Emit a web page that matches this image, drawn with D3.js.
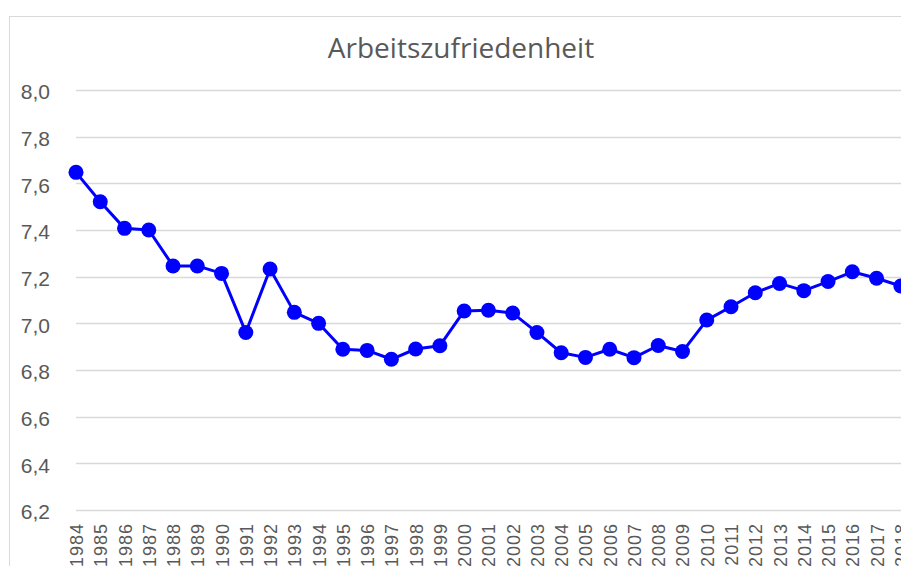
<!DOCTYPE html>
<html lang="de">
<head>
    <meta charset="UTF-8">
    <title>Arbeitszufriedenheit</title>
    <script src="https://d3js.org/d3.v7.min.js"></script>
    <style>
        body { margin: 0; background: #fff; }
        svg { display: block; font-family: "Open Sans", Lato, sans-serif; }
    </style>
</head>
<body>
    <svg width="901" height="566"></svg>
    <script>
        // Data
        const years = [1984, 1985, 1986, 1987, 1988, 1989, 1990, 1991, 1992, 1993,
                       1994, 1995, 1996, 1997, 1998, 1999, 2000, 2001, 2002, 2003,
                       2004, 2005, 2006, 2007, 2008, 2009, 2010, 2011, 2012, 2013,
                       2014, 2015, 2016, 2017, 2018];
        const satisfaction = [7.647, 7.521, 7.407, 7.400, 7.246, 7.246, 7.214, 6.961, 7.233, 7.047,
                              7.000, 6.889, 6.884, 6.846, 6.890, 6.904, 7.053, 7.056, 7.044, 6.961,
                              6.874, 6.854, 6.889, 6.853, 6.905, 6.879, 7.014, 7.071, 7.131, 7.171,
                              7.140, 7.179, 7.221, 7.193, 7.160];
        const yTicks = [6.2, 6.4, 6.6, 6.8, 7.0, 7.2, 7.4, 7.6, 7.8, 8.0];

        const data = years.map((y, i) => ({ year: y, value: satisfaction[i] }));

        const svg = d3.select("svg");
        const textColor = "#595959";

        // outer chart border (runs off the right and bottom edge)
        svg.append("rect")
            .attr("x", 9.5).attr("y", 16.5)
            .attr("width", 1000).attr("height", 1000)
            .attr("fill", "none")
            .attr("stroke", "#d9d9d9");

        const plotLeft = 76, plotTop = 90, plotBottom = 510;
        const step = 24.26;

        const x = d3.scalePoint()
            .domain(years)
            .range([plotLeft, plotLeft + step * (years.length - 1)]);

        const y = d3.scaleLinear()
            .domain([6.2, 8.0])
            .range([plotBottom, plotTop]);

        // gridlines
        svg.append("g")
            .selectAll("line")
            .data(yTicks)
            .join("line")
            .attr("x1", plotLeft).attr("x2", 1000)
            .attr("y1", d => Math.round(y(d)) + 0.5)
            .attr("y2", d => Math.round(y(d)) + 0.5)
            .attr("stroke", "#d9d9d9")
            .attr("stroke-width", 1.3);

        // y axis labels
        const fmt = d => d3.format(".1f")(d).replace(".", ",");
        const yAxis = svg.append("g")
            .attr("transform", `translate(${plotLeft},0)`)
            .call(d3.axisLeft(y).tickValues(yTicks).tickFormat(fmt).tickSize(0).tickPadding(26));
        yAxis.select(".domain").remove();
        yAxis.selectAll("text")
            .attr("fill", textColor)
            .attr("dy", "0.42em")
            .style("font-size", "21px");

        // x axis labels
        const xAxis = svg.append("g")
            .attr("transform", `translate(0,${plotBottom})`)
            .call(d3.axisBottom(x).tickSize(0).tickPadding(0));
        xAxis.select(".domain").remove();
        xAxis.selectAll("text")
            .attr("fill", textColor)
            .style("font-size", "18px")
            .style("letter-spacing", "1px")
            .attr("text-anchor", "end")
            .attr("y", 0)
            .attr("dy", "0.36em")
            .attr("transform", "translate(0,13) rotate(-90)");

        // line
        const line = d3.line()
            .x(d => x(d.year))
            .y(d => y(d.value));

        svg.append("path")
            .datum(data)
            .attr("fill", "none")
            .attr("stroke", "#0000ff")
            .attr("stroke-width", 3)
            .attr("stroke-linejoin", "round")
            .attr("d", line);

        svg.append("g")
            .selectAll("circle")
            .data(data)
            .join("circle")
            .attr("cx", d => x(d.year))
            .attr("cy", d => y(d.value))
            .attr("r", 7.5)
            .attr("fill", "#0000ff");

        // title
        svg.append("text")
            .attr("x", 461)
            .attr("y", 58)
            .attr("text-anchor", "middle")
            .attr("fill", textColor)
            .style("font-size", "28px")
            .text("Arbeitszufriedenheit");
    </script>
</body>
</html>
